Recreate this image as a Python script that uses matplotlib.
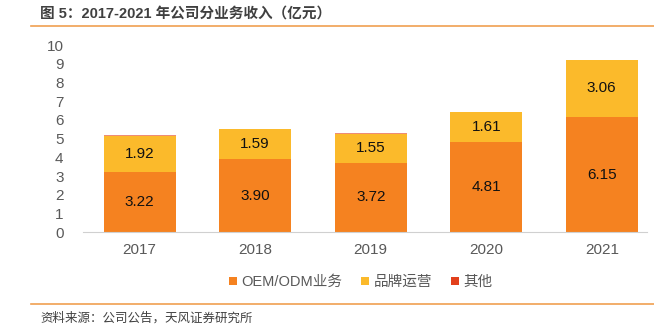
import matplotlib
matplotlib.use("Agg")
import matplotlib.pyplot as plt
from matplotlib.lines import Line2D
from matplotlib.patches import Patch
import numpy as np

plt.rcParams['font.family'] = ['Liberation Sans', 'Noto Sans CJK SC', 'DejaVu Sans']

years = ['2017', '2018', '2019', '2020', '2021']
oem_odm = [3.22, 3.90, 3.72, 4.81, 6.15]
brand = [1.92, 1.59, 1.55, 1.61, 3.06]
other = [0.03, 0.03, 0.03, 0.01, 0.01]
series_names = ['OEM/ODM业务', '品牌运营', '其他']
colors = ['#F58220', '#FBBA2B', '#E2401C']
yticks = list(range(0, 11))

fig = plt.figure(figsize=(6.54, 3.34), dpi=100)
ax = fig.add_axes([0.127, 0.305, 0.862, 0.56])

x = np.arange(len(years))
w = 0.625
ax.bar(x, oem_odm, w, color=colors[0], edgecolor='none')
ax.bar(x, brand, w, bottom=oem_odm, color=colors[1], edgecolor='none')
bottom2 = [a + b for a, b in zip(oem_odm, brand)]
ax.bar(x, other, w, bottom=bottom2, color=colors[2], edgecolor='none', alpha=0.6)

for i in range(len(years)):
    ax.text(x[i], oem_odm[i] / 2, f'{oem_odm[i]:.2f}', ha='center', va='center', fontsize=11, color='#111111')
    ax.text(x[i], oem_odm[i] + brand[i] / 2, f'{brand[i]:.2f}', ha='center', va='center', fontsize=11, color='#111111')

ax.set_ylim(0, 10)
ax.set_xlim(-0.49, 4.39)
ax.set_yticks(yticks)
ax.set_xticks(x)
ax.set_xticklabels(years)
for s in ['top', 'right', 'left']:
    ax.spines[s].set_visible(False)
ax.spines['bottom'].set_color('#D0D0D0')
ax.spines['bottom'].set_linewidth(0.8)
ax.tick_params(axis='both', length=0, labelsize=11, colors='#595959')
ax.tick_params(axis='y', pad=14)
ax.tick_params(axis='x', pad=8)

handles = [Patch(facecolor=c, edgecolor='none') for c in colors]
leg = fig.legend(handles, series_names, loc='center', bbox_to_anchor=(0.552, 0.155), ncol=3,
                 frameon=False, fontsize=10.5, handlelength=0.55, handleheight=0.55,
                 handletextpad=0.3, columnspacing=1.3)
for t in leg.get_texts():
    t.set_color('#595959')

fig.text(40 / 654, 1 - 14 / 334, '图 5：2017-2021 年公司分业务收入（亿元）', ha='left', va='center',
         fontsize=10.5, fontweight='bold', color='#404040')
fig.add_artist(Line2D([31 / 654, 1], [1 - 25.5 / 334] * 2, color='#F0A050', lw=1.2, transform=fig.transFigure))
fig.add_artist(Line2D([31 / 654, 1], [1 - 304 / 334] * 2, color='#F0A050', lw=1.2, transform=fig.transFigure))
fig.text(40 / 654, 1 - 318 / 334, '资料来源：公司公告，天风证券研究所', ha='left', va='center',
         fontsize=9, color='#404040')

fig.savefig('out.png', dpi=100)
